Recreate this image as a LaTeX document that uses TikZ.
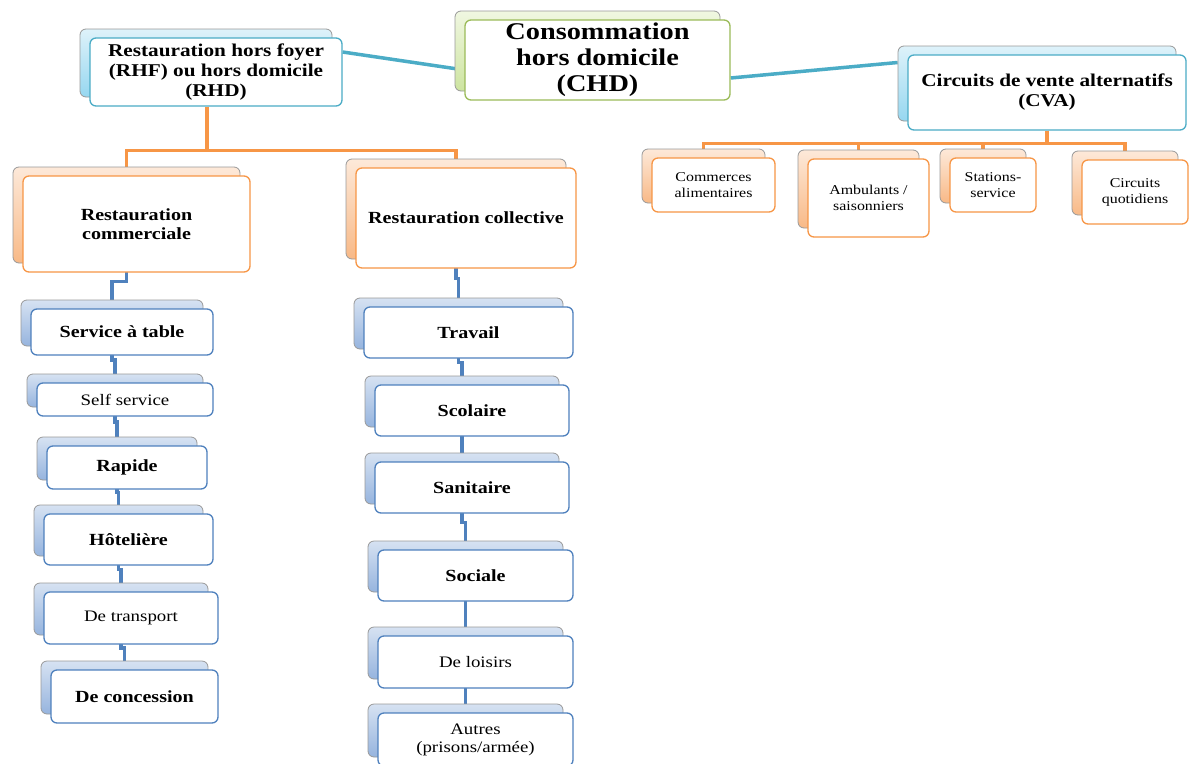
\documentclass[tikz,border=0pt]{standalone}
\usepackage{fontspec}
\setmainfont{Liberation Serif}[FakeStretch=1.18]
\usetikzlibrary{calc,backgrounds}
\definecolor{tealc}{RGB}{75,172,198}
\definecolor{orangec}{RGB}{247,150,70}
\definecolor{bluec}{RGB}{79,129,189}
\definecolor{greenc}{RGB}{155,187,89}
\definecolor{obtop}{RGB}{253,233,217}
\definecolor{obbot}{RGB}{248,185,135}
\definecolor{bbtop}{RGB}{214,226,242}
\definecolor{bbbot}{RGB}{150,180,222}
\definecolor{cbtop}{RGB}{222,242,250}
\definecolor{cbbot}{RGB}{150,215,240}
\definecolor{gbtop}{RGB}{240,247,225}
\definecolor{gbbot}{RGB}{205,228,160}
\newcommand\fA{\bfseries\fontsize{18}{20}\selectfont}
\newcommand\fB{\bfseries\fontsize{24}{26}\selectfont}
\newcommand\fC{\bfseries\fontsize{17}{19}\selectfont}
\newcommand\fD{\fontsize{13.5}{16}\selectfont}
\newcommand\fE{\bfseries\fontsize{17}{19}\selectfont}
\newcommand\fF{\fontsize{16}{18}\selectfont}
\tikzset{
  basebox/.style={rounded corners=6pt, inner sep=0pt, align=center},
  backbox/.style={basebox, draw=black!40, line width=0.8pt},
  frontbox/.style={basebox, line width=1.3pt, fill=white},
  oback/.style={backbox, top color=obtop, bottom color=obbot},
  ofront/.style={frontbox, draw=orangec},
  bback/.style={backbox, top color=bbtop, bottom color=bbbot},
  bfront/.style={frontbox, draw=bluec},
  cback/.style={backbox, top color=cbtop, bottom color=cbbot},
  cfront/.style={frontbox, draw=tealc},
  gback/.style={backbox, top color=gbtop, bottom color=gbbot},
  gfront/.style={frontbox, draw=greenc},
  tline/.style={draw=tealc, line width=3.5pt},
  oline/.style={draw=orangec, line width=3.2pt},
  bline/.style={draw=bluec, line width=3.2pt},
}
\newcommand\pbox[8]{%
  \node[#1back, minimum width={(#5-#3)*1pt}, minimum height={(#6-#4)*1pt}] (#2b) at ({(#3+#5)/2-10},{(#4+#6)/2-9}) {};
  \node[#1front, minimum width={(#5-#3)*1pt}, minimum height={(#6-#4)*1pt}, font={#7}] (#2) at ({(#3+#5)/2},{(#4+#6)/2}) {#8};}
\newcommand\jog[2]{\draw[bline] (#1.south) |- ($(#1.south)!0.5!(#2.north)$) -| (#2.north);}
\begin{document}
\begin{tikzpicture}[x=1pt,y=-1pt]
\useasboundingbox (0,0) rectangle (1191,763);
% top level
\pbox{c}{rhf}{90}{38}{342}{106}{\fA}{Restauration hors foyer\\(RHF) ou hors domicile\\(RHD)}
\pbox{g}{chd}{465}{20}{730}{100}{\fB}{Consommation\\hors domicile\\(CHD)}
\pbox{c}{cva}{908}{55}{1186}{130}{\fA}{Circuits de vente alternatifs\\(CVA)}
% level 2
\pbox{o}{rc}{23}{176}{250}{272}{\fC}{Restauration\\commerciale}
\pbox{o}{rl}{356}{168}{576}{268}{\fC}{Restauration collective}
\pbox{o}{ca}{652}{158}{775}{212}{\fD}{Commerces\\alimentaires}
\pbox{o}{am}{808}{159}{929}{237}{\fD}{Ambulants /\\saisonniers}
\pbox{o}{ss}{950}{158}{1036}{212}{\fD}{Stations-\\service}
\pbox{o}{cq}{1082}{160}{1188}{224}{\fD}{Circuits\\quotidiens}
% left column
\pbox{b}{st}{31}{309}{213}{355}{\fE}{Service à table}
\pbox{b}{sf}{37}{383}{213}{416}{\fF}{Self service}
\pbox{b}{ra}{47}{446}{207}{489}{\fE}{Rapide}
\pbox{b}{ho}{44}{514}{213}{565}{\fE}{Hôtelière}
\pbox{b}{tr}{44}{592}{218}{644}{\fF}{De transport}
\pbox{b}{co}{51}{670}{218}{723}{\fE}{De concession}
% right column
\pbox{b}{tv}{364}{307}{573}{358}{\fE}{Travail}
\pbox{b}{sc}{375}{385}{569}{436}{\fE}{Scolaire}
\pbox{b}{sa}{375}{462}{569}{513}{\fE}{Sanitaire}
\pbox{b}{so}{378}{550}{573}{601}{\fE}{Sociale}
\pbox{b}{lo}{378}{636}{573}{688}{\fF}{De loisirs}
\pbox{b}{au}{378}{713}{573}{766}{\fF}{Autres\\(prisons/armée)}
\begin{pgfonlayer}{background}
\fill[white] (0,0) rectangle (1191,763);
\draw[tline] ([yshift=20pt]rhf.east) -- ([yshift=-10pt]chd.west);
\draw[tline] ([yshift=-18pt]chd.east) -- ([yshift=21pt]cvab.west);
\draw[oline] ([xshift=-9pt]rhf.south) -- ++(0,44) -| (rcb.north);
\draw[oline] ([xshift=-9pt]rhf.south) -- ++(0,44) -| (rlb.north);
\foreach \t in {cab,amb,ssb,cqb} \draw[oline] (cva.south) -- ++(0,13) -| (\t.north);
\jog{rcb}{stb}\jog{stb}{sfb}\jog{sfb}{rab}\jog{rab}{hob}\jog{hob}{trb}\jog{trb}{cob}
\jog{rlb}{tvb}\jog{tvb}{scb}\jog{scb}{sab}\jog{sab}{sob}\jog{sob}{lob}\jog{lob}{aub}
\end{pgfonlayer}
\end{tikzpicture}
\end{document}
